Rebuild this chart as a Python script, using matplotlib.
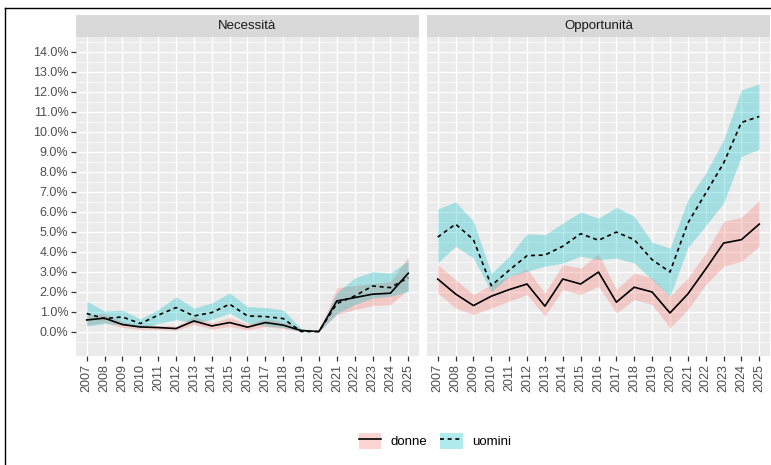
import matplotlib
matplotlib.use("Agg")
import matplotlib.pyplot as plt
from matplotlib.lines import Line2D
from matplotlib.patches import Patch
from matplotlib.legend_handler import HandlerTuple
import numpy as np

plt.rcParams["font.family"] = ["Liberation Sans", "DejaVu Sans"]

years = [str(y) for y in range(2007, 2026)]
panels = ["Necessità", "Opportunità"]

# Necessità (% of adults)
nec_donne = [0.58, 0.67, 0.35, 0.23, 0.20, 0.15, 0.53, 0.28, 0.45, 0.22,
             0.45, 0.32, 0.05, 0.00, 1.53, 1.70, 1.87, 1.92, 2.92]
nec_donne_lo = [0.33, 0.45, 0.20, 0.10, 0.10, 0.05, 0.35, 0.12, 0.25, 0.08,
                0.25, 0.15, 0.00, 0.00, 0.85, 1.10, 1.30, 1.35, 2.10]
nec_donne_hi = [0.82, 0.90, 0.50, 0.35, 0.30, 0.28, 0.75, 0.45, 0.70, 0.38,
                0.65, 0.48, 0.15, 0.00, 2.20, 2.30, 2.40, 2.50, 3.75]
nec_uomini = [0.90, 0.65, 0.73, 0.40, 0.82, 1.20, 0.78, 0.95, 1.37, 0.78,
              0.75, 0.65, 0.00, 0.00, 1.40, 1.78, 2.28, 2.20, 2.70]
nec_uomini_lo = [0.27, 0.40, 0.35, 0.18, 0.40, 0.60, 0.43, 0.60, 0.93, 0.43,
                 0.28, 0.20, 0.00, 0.00, 0.90, 1.35, 1.68, 1.77, 2.00]
nec_uomini_hi = [1.52, 1.02, 1.07, 0.63, 1.10, 1.73, 1.18, 1.43, 1.93, 1.25,
                 1.20, 1.08, 0.15, 0.00, 1.95, 2.68, 3.00, 2.93, 3.55]

# Opportunità (% of adults)
opp_donne = [2.63, 1.88, 1.30, 1.77, 2.10, 2.38, 1.27, 2.63, 2.38, 2.98,
             1.47, 2.22, 1.98, 0.93, 1.88, 3.13, 4.43, 4.60, 5.38]
opp_donne_lo = [1.93, 1.18, 0.85, 1.18, 1.52, 1.85, 0.77, 2.10, 1.85, 2.27,
                0.93, 1.60, 1.35, 0.18, 1.10, 2.35, 3.27, 3.52, 4.27]
opp_donne_hi = [3.35, 2.60, 1.85, 2.35, 2.77, 3.13, 1.93, 3.35, 3.18, 3.90,
                2.10, 2.93, 2.68, 1.77, 2.68, 3.93, 5.52, 5.72, 6.57]
opp_uomini = [4.73, 5.38, 4.60, 2.30, 3.07, 3.80, 3.83, 4.27, 4.90, 4.57,
              4.98, 4.60, 3.60, 2.98, 5.43, 6.93, 8.43, 10.47, 10.77]
opp_uomini_lo = [3.43, 4.27, 3.68, 2.00, 2.77, 3.02, 3.27, 3.43, 3.77, 3.60,
                 3.68, 3.43, 2.60, 1.77, 4.20, 5.30, 6.43, 8.77, 9.13]
opp_uomini_hi = [6.13, 6.50, 5.52, 2.90, 3.77, 4.90, 4.85, 5.43, 5.98, 5.68,
                 6.22, 5.77, 4.47, 4.18, 6.60, 7.93, 9.60, 12.10, 12.40]

series = {
    "Necessità": [(nec_donne, nec_donne_lo, nec_donne_hi),
                  (nec_uomini, nec_uomini_lo, nec_uomini_hi)],
    "Opportunità": [(opp_donne, opp_donne_lo, opp_donne_hi),
                    (opp_uomini, opp_uomini_lo, opp_uomini_hi)],
}

y_ticks = np.arange(0, 15, 1)
fill_colors = ["#F8766D", "#00BFC4"]
line_styles = ["solid", (0, (2.4, 2.2))]
labels = ["donne", "uomini"]

W, H = 771, 465
fig = plt.figure(figsize=(W / 100, H / 100), dpi=100)

panel_left = [76, 427]
panel_w = 343
top_px, bot_px = 37.5, 356
strip_top = 15

x = np.arange(len(years))
for i, name in enumerate(panels):
    ax = fig.add_axes([panel_left[i] / W, 1 - bot_px / H,
                       panel_w / W, (bot_px - top_px) / H])
    ax.set_facecolor("#EBEBEB")
    for k, (val, lo, hi) in enumerate(series[name]):
        ax.fill_between(x, lo, hi, color=fill_colors[k], alpha=0.3,
                        linewidth=0, zorder=2)
    for k, (val, lo, hi) in enumerate(series[name]):
        ax.plot(x, val, color="black", lw=1.2, linestyle=line_styles[k],
                zorder=3)
    ax.set_xlim(-0.6, len(years) - 1 + 0.6)
    ax.set_ylim(-1.225, 14.725)
    ax.set_xticks(x)
    ax.set_xticklabels(years, rotation=90, fontsize=9, color="#4D4D4D")
    ax.set_yticks(y_ticks)
    ax.set_yticks(np.arange(-0.5, 14.6, 1), minor=True)
    if i == 0:
        ax.set_yticklabels([f"{v:.1f}%" for v in y_ticks], fontsize=9,
                           color="#4D4D4D")
    else:
        ax.tick_params(axis="y", which="both", left=False, labelleft=False)
    ax.tick_params(axis="both", which="major", length=3.5, width=0.9,
                   color="#333333", pad=2)
    ax.tick_params(axis="y", which="minor", length=0)
    ax.grid(True, which="major", color="white", lw=1.0, zorder=0)
    ax.grid(True, which="minor", axis="y", color="white", lw=0.5, zorder=0)
    ax.set_axisbelow(True)
    for s in ax.spines.values():
        s.set_visible(False)

    # facet strip
    sax = fig.add_axes([panel_left[i] / W, 1 - top_px / H,
                        panel_w / W, (top_px - strip_top) / H])
    sax.set_facecolor("#D9D9D9")
    sax.set_xticks([])
    sax.set_yticks([])
    for s in sax.spines.values():
        s.set_visible(False)
    sax.text(0.5, 0.5, name, ha="center", va="center", fontsize=9.5,
             color="#1A1A1A", transform=sax.transAxes)

# legend: translucent key box with the line drawn over it
handles = []
for k in range(2):
    handles.append((Patch(facecolor=fill_colors[k], alpha=0.3, edgecolor="none"),
                    Line2D([], [], color="black", lw=1.2, linestyle=line_styles[k])))
fig.legend(handles, labels, loc="center", bbox_to_anchor=(435 / W, 1 - 441 / H),
           ncol=2, frameon=False, fontsize=9.5,
           handler_map={tuple: HandlerTuple(ndivide=1, pad=0)},
           handlelength=1.7, handleheight=1.5, columnspacing=1.0,
           handletextpad=0.7)

# outer frame on left and top edges
fig.add_artist(Line2D([5 / W, 5 / W], [0, 1 - 8 / H], transform=fig.transFigure,
                      color="black", lw=1.0))
fig.add_artist(Line2D([5 / W, 1], [1 - 8 / H, 1 - 8 / H], transform=fig.transFigure,
                      color="black", lw=1.0))

fig.savefig("out.png", dpi=100)
